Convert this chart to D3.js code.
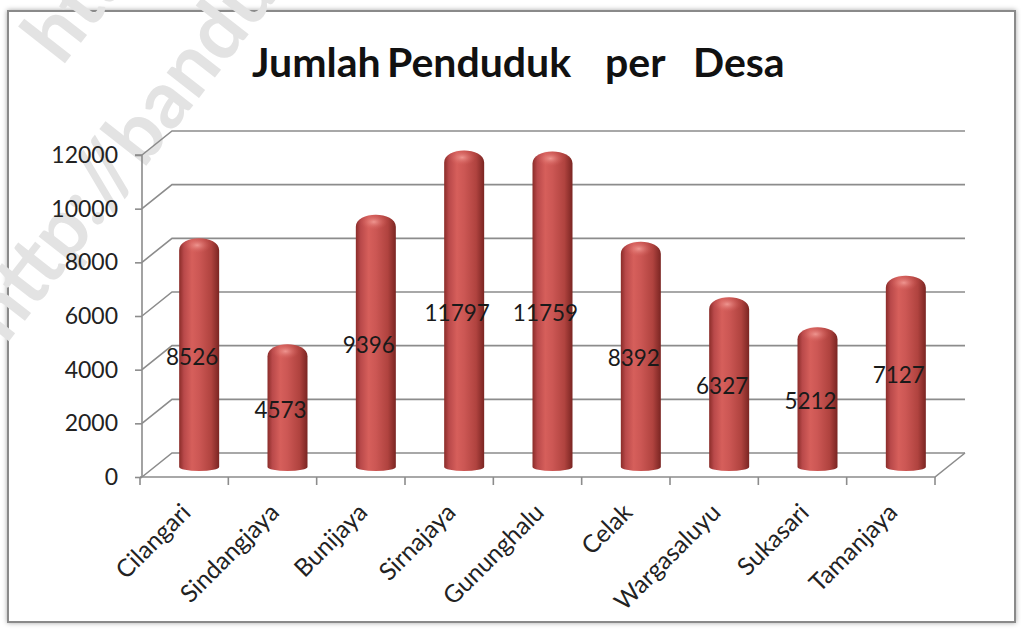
<!DOCTYPE html>
<html>
<head>
<meta charset="utf-8">
<script src="https://cdn.jsdelivr.net/npm/d3@7"></script>
<style>
  body { margin: 0; background: #fff; }
  svg { display: block; }
  svg text { font-family: Lato, 'Open Sans', sans-serif; }
</style>
</head>
<body>
<div id="chart"></div>
<script>
// Data
const desa = ["Cilangari", "Sindangjaya", "Bunijaya", "Sirnajaya", "Gununghalu",
  "Celak", "Wargasaluyu", "Sukasari", "Tamanjaya"];
const penduduk = [8526, 4573, 9396, 11797, 11759, 8392, 6327, 5212, 7127];
const yTicks = [0, 2000, 4000, 6000, 8000, 10000, 12000];
const titleWords = ["Jumlah", "Penduduk", "per", "Desa"];

const W = 1021, H = 633;
const depth = { dx: 30, dy: -24 };   // 3d offset of the back wall

const svg = d3.select("#chart")
  .append("svg")
  .attr("width", W)
  .attr("height", H);

const defs = svg.append("defs");

// cylinder shading, left to right
const grad = defs.append("linearGradient").attr("id", "cyl");
[[0, "#8a2c29"], [0.12, "#b9494a"], [0.32, "#d65f5b"], [0.5, "#cc5754"],
 [0.8, "#b0433f"], [1, "#7a2522"]].forEach(([o, c]) => {
  grad.append("stop").attr("offset", o).attr("stop-color", c);
});
const capGrad = defs.append("radialGradient").attr("id", "cap");
capGrad.append("stop").attr("offset", 0).attr("stop-color", "#f4a09a").attr("stop-opacity", 0.85);
capGrad.append("stop").attr("offset", 1).attr("stop-color", "#d65f5b").attr("stop-opacity", 0);

const shadow = defs.append("filter").attr("id", "frameShadow")
  .attr("x", -0.05).attr("y", -0.05).attr("width", 1.1).attr("height", 1.1);
shadow.append("feDropShadow").attr("dx", 0).attr("dy", 0).attr("stdDeviation", 2.5)
  .attr("flood-color", "#000").attr("flood-opacity", 0.35);

// chart frame
svg.append("rect")
  .attr("x", 8).attr("y", 11).attr("width", 1007).attr("height", 611)
  .attr("fill", "#fff").attr("stroke", "#8a8a8a").attr("stroke-width", 2)
  .attr("filter", "url(#frameShadow)");

// watermark
const wm = svg.append("g").attr("fill", "#e3e3e3")
  .style("font-family", "'Liberation Sans', Arial, sans-serif").style("font-weight", 700)
  .style("font-size", "80px");
wm.append("text").attr("transform", "translate(6,345) rotate(-52)").text("http://bandung");
wm.append("text").attr("transform", "translate(62,67) rotate(-52)").text("http://bandung");

// scales
const y = d3.scaleLinear().domain([0, 12000]).range([477, 155]);
const x = d3.scaleBand().domain(desa).range([140, 935]).padding(0);

const grid = svg.append("g").attr("stroke", "#8c8c8c").attr("stroke-width", 1.6).attr("fill", "none");

// back wall gridlines + left wall diagonals
yTicks.forEach(t => {
  const yy = y(t);
  grid.append("path")
    .attr("d", `M${x.range()[0] + 2},${yy} L${x.range()[0] + 2 + depth.dx},${yy + depth.dy} L${x.range()[1] + depth.dx},${yy + depth.dy}`);
});
// floor
grid.append("path")
  .attr("d", `M${x.range()[0]},${y(0)} L${x.range()[1]},${y(0)} L${x.range()[1] + depth.dx},${y(0) + depth.dy}`);

// y axis
const yAxis = d3.axisLeft(y).tickValues(yTicks).tickSize(7).tickPadding(17).tickFormat(d3.format("d"));
const gy = svg.append("g").attr("transform", `translate(${x.range()[0] + 2},0)`).call(yAxis);
gy.attr("font-family", null).attr("font-size", null);
gy.select(".domain").attr("stroke", "#8c8c8c").attr("stroke-width", 1.6).attr("d", `M-7,${y(12000)}H0V${y(0)}`);
gy.selectAll(".tick line").attr("stroke", "#8c8c8c").attr("stroke-width", 1.6);
gy.selectAll(".tick text").attr("fill", "#222").style("font-size", "23px");

// x axis
const xAxis = d3.axisBottom(x).tickSize(0).tickFormat("");
const gx = svg.append("g").attr("transform", `translate(0,${y(0)})`).call(xAxis);
gx.attr("font-family", null).attr("font-size", null);
gx.select(".domain").remove();
gx.selectAll(".tick").remove();
const xTicks = desa.map(d => x(d)).concat([x.range()[1]]);
gx.selectAll("line.xt").data(xTicks).join("line")
  .attr("class", "xt")
  .attr("x1", d => d).attr("x2", d => d).attr("y1", 0).attr("y2", 8)
  .attr("stroke", "#8c8c8c").attr("stroke-width", 1.6);

gx.selectAll("text.xl").data(desa).join("text")
  .attr("class", "xl")
  .attr("transform", d => `translate(${x(d) + x.bandwidth() / 2 + 8},${37}) rotate(-45)`)
  .attr("text-anchor", "end")
  .attr("fill", "#222")
  .style("font-size", "24.5px")
  .text(d => d);

// cylinders (sit at mid depth)
const barW = 40;
const midY = v => y(v) + depth.dy / 2;
const cx = d => x(d) + x.bandwidth() / 2 + depth.dx / 2;
const data = desa.map((d, i) => ({ desa: d, value: penduduk[i] }));

const bars = svg.append("g");
bars.selectAll("path.cyl").data(data).join("path")
  .attr("class", "cyl")
  .attr("fill", "url(#cyl)")
  .attr("d", d => {
    const x0 = cx(d.desa) - barW / 2, x1 = cx(d.desa) + barW / 2;
    const top = midY(d.value), bot = midY(0) + 2;
    const r = 14;
    return `M${x0},${bot} L${x0},${top + r} C${x0},${top - 2} ${x1},${top - 2} ${x1},${top + r} L${x1},${bot} A${barW / 2},4 0 0 1 ${x0},${bot} Z`;
  });
bars.selectAll("ellipse.cap").data(data).join("ellipse")
  .attr("class", "cap")
  .attr("cx", d => cx(d.desa) - 2)
  .attr("cy", d => midY(d.value) + 9)
  .attr("rx", 14).attr("ry", 8)
  .attr("fill", "url(#cap)");

// value labels
svg.append("g").selectAll("text").data(data).join("text")
  .attr("x", d => cx(d.desa) - 7)
  .attr("y", d => (midY(d.value) + midY(0)) / 2 + 14)
  .attr("text-anchor", "middle")
  .attr("fill", "#1a1a1a")
  .style("font-size", "22.5px")
  .text(d => d.value);

// title, words placed as in the original (uneven gaps)
const titleX = [252, 387, 605, 693];
svg.append("text")
  .attr("y", 77)
  .style("font-size", "41px")
  .style("font-weight", 700)
  .attr("fill", "#111")
  .selectAll("tspan").data(titleWords).join("tspan")
  .attr("x", (d, i) => titleX[i])
  .text(d => d);
</script>
</body>
</html>
